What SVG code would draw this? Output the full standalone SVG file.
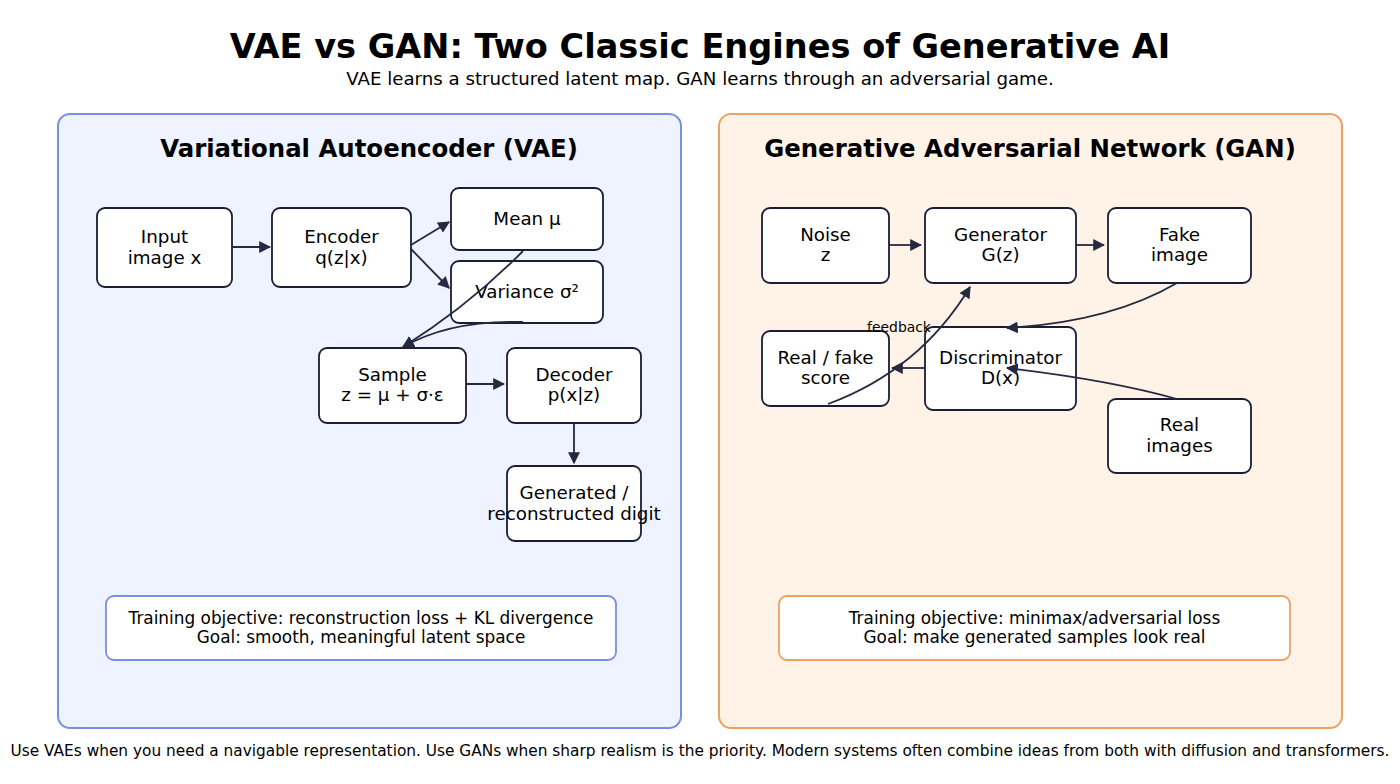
<svg xmlns="http://www.w3.org/2000/svg" width="1400" height="784" viewBox="0 0 1400 784">
<defs>
<marker id="ah" viewBox="0 0 10 10" refX="9" refY="5" markerWidth="12" markerHeight="12" markerUnits="userSpaceOnUse" orient="auto"><path d="M0,0 L10,5 L0,10 z" fill="#252a40"/></marker>
<style>
text{font-family:"DejaVu Sans",sans-serif;fill:#000}
.t{font-size:33.6px;font-weight:bold;text-anchor:middle}
.st{font-size:18.2px;text-anchor:middle}
.pt{font-size:24.4px;font-weight:bold;text-anchor:middle}
.n rect{fill:#fff;stroke:#1a1d33;stroke-width:1.8}
.n text{font-size:18.3px;text-anchor:middle}
.g text{font-size:16.9px;text-anchor:middle}
.c path{fill:none;stroke:#252a40;stroke-width:1.8;marker-end:url(#ah)}
.fb{font-size:13.9px;text-anchor:middle}
.ft{font-size:15.35px;text-anchor:middle}
</style>
</defs>
<rect width="1400" height="784" fill="#fff"/>
<text class="t" x="700" y="58">VAE vs GAN: Two Classic Engines of Generative AI</text>
<text class="st" x="700" y="85">VAE learns a structured latent map. GAN learns through an adversarial game.</text>

<g id="vae-panel">
<rect x="58" y="114" width="623" height="614" rx="12" fill="#eef3ff" stroke="#7b8fe0" stroke-width="2"/>
<text class="pt" x="369" y="157">Variational Autoencoder (VAE)</text>
</g>
<g id="gan-panel">
<rect x="719" y="114" width="623" height="614" rx="12" fill="#fff3e8" stroke="#f0a060" stroke-width="2"/>
<text class="pt" x="1030" y="157">Generative Adversarial Network (GAN)</text>
</g>

<g class="n" id="input"><rect x="97" y="208" width="135" height="79" rx="8"/><text x="164.5" y="243">Input</text><text x="164.5" y="264">image x</text></g>
<g class="n" id="encoder"><rect x="272" y="208" width="139" height="79" rx="8"/><text x="341.5" y="243">Encoder</text><text x="341.5" y="264">q(z|x)</text></g>
<g class="n" id="mean"><rect x="451" y="188" width="152" height="62" rx="8"/><text x="527" y="225">Mean μ</text></g>
<g class="n" id="variance"><rect x="451" y="261" width="152" height="62" rx="8"/><text x="527" y="298">Variance σ²</text></g>
<g class="n" id="sample"><rect x="319" y="348" width="147" height="75" rx="8"/><text x="392.5" y="381">Sample</text><text x="392.5" y="401">z = μ + σ·ε</text></g>
<g class="n" id="decoder"><rect x="507" y="348" width="134" height="75" rx="8"/><text x="574" y="381">Decoder</text><text x="574" y="401">p(x|z)</text></g>
<g class="n" id="generated"><rect x="507" y="466" width="134" height="75" rx="8"/><text x="574" y="499">Generated /</text><text x="574" y="520">reconstructed digit</text></g>

<g class="g" id="vae-goal"><rect x="106" y="596" width="510" height="64" rx="8" fill="#fff" stroke="#7b8fe0" stroke-width="1.8"/><text x="361" y="624">Training objective: reconstruction loss + KL divergence</text><text x="361" y="643">Goal: smooth, meaningful latent space</text></g>

<g class="n" id="noise"><rect x="762" y="208" width="127" height="75" rx="8"/><text x="825.5" y="241">Noise</text><text x="825.5" y="261">z</text></g>
<g class="n" id="generator"><rect x="925" y="208" width="151" height="75" rx="8"/><text x="1000.5" y="241">Generator</text><text x="1000.5" y="261">G(z)</text></g>
<g class="n" id="fake"><rect x="1108" y="208" width="143" height="75" rx="8"/><text x="1179.5" y="241">Fake</text><text x="1179.5" y="261">image</text></g>
<g class="n" id="score"><rect x="762" y="331" width="127" height="75" rx="8"/><text x="825.5" y="364">Real / fake</text><text x="825.5" y="384">score</text></g>
<g class="n" id="discriminator"><rect x="925" y="327" width="151" height="83" rx="8"/><text x="1000.5" y="364">Discriminator</text><text x="1000.5" y="384">D(x)</text></g>
<g class="n" id="real"><rect x="1108" y="399" width="143" height="74" rx="8"/><text x="1179.5" y="431">Real</text><text x="1179.5" y="452">images</text></g>

<g class="g" id="gan-goal"><rect x="779" y="596" width="511" height="64" rx="8" fill="#fff" stroke="#f0a060" stroke-width="1.8"/><text x="1034.5" y="624">Training objective: minimax/adversarial loss</text><text x="1034.5" y="643">Goal: make generated samples look real</text></g>

<g class="c" id="connectors">
<path d="M232,247 L270,247"/>
<path d="M411,245 L449,222"/>
<path d="M411,249 L449,288"/>
<path d="M523,251 Q470,305 403,347"/>
<path d="M523,322 Q450,320 403,347"/>
<path d="M466,384 L504,384"/>
<path d="M574,423 L574,463"/>
<path d="M889,245 L921,245"/>
<path d="M1076,245 L1104,245"/>
<path d="M1177,283 Q1110,322 1007,328"/>
<path d="M924,368 L892,368"/>
<path d="M1177,399 Q1110,380 1007,368"/>
<path d="M828,404 Q920,370 970,287"/>
</g>
<text class="fb" x="899" y="332">feedback</text>

<text class="ft" x="700" y="756">Use VAEs when you need a navigable representation. Use GANs when sharp realism is the priority. Modern systems often combine ideas from both with diffusion and transformers.</text>
</svg>
